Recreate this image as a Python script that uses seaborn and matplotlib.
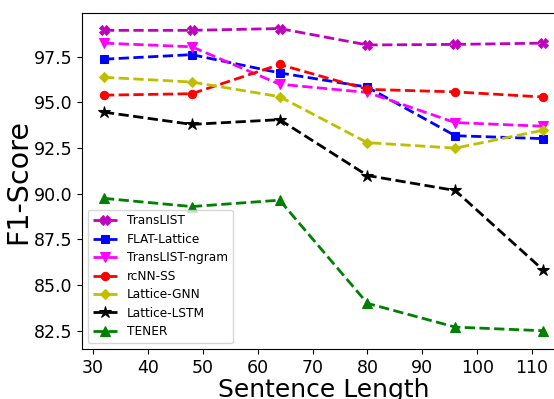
import matplotlib
matplotlib.use("Agg")
import matplotlib.pyplot as plt
import seaborn as sns
import pandas as pd

lengths = [32, 48, 64, 80, 96, 112]
translist = [98.95, 98.95, 99.05, 98.15, 98.18, 98.25]
flat_lattice = [97.37, 97.62, 96.62, 95.84, 93.18, 93.02]
translist_ngram = [98.25, 98.05, 96.00, 95.55, 93.90, 93.70]
rcnn_ss = [95.40, 95.48, 97.08, 95.72, 95.58, 95.30]
lattice_gnn = [96.38, 96.12, 95.32, 92.80, 92.50, 93.48]
lattice_lstm = [94.47, 93.80, 94.06, 91.00, 90.18, 85.83]
tener = [89.75, 89.30, 89.65, 84.00, 82.70, 82.50]

series = [
    ("TransLIST", translist, "#bf00bf", "X", 6.5),
    ("FLAT-Lattice", flat_lattice, "#0000ff", "s", 6),
    ("TransLIST-ngram", translist_ngram, "#ff00ff", "v", 6.5),
    ("rcNN-SS", rcnn_ss, "#ff0000", "o", 6),
    ("Lattice-GNN", lattice_gnn, "#bfbf00", "D", 5.5),
    ("Lattice-LSTM", lattice_lstm, "#000000", "*", 9),
    ("TENER", tener, "#008000", "^", 6.5),
]

fig = plt.figure(figsize=(5.54, 3.99), dpi=100)
ax = fig.add_axes([82 / 554, 1 - 349 / 399, (565 - 82) / 554, (349 - 13) / 399])

for name, vals, color, marker, ms in series:
    df = pd.DataFrame({"Sentence Length": lengths, "F1": vals})
    sns.lineplot(data=df, x="Sentence Length", y="F1", ax=ax, color=color,
                 marker=marker, markersize=ms, markeredgecolor=color,
                 linestyle="--", linewidth=2, label=name)

ax.set_xlim(28, 116)
ax.set_ylim(81.5, 99.9)
ax.set_xticks([30, 40, 50, 60, 70, 80, 90, 100, 110])
ax.set_yticks([82.5, 85.0, 87.5, 90.0, 92.5, 95.0, 97.5])
ax.set_yticklabels(["82.5", "85.0", "87.5", "90.0", "92.5", "95.0", "97.5"])
ax.tick_params(labelsize=12.5)
ax.set_xlabel("Sentence Length", fontsize=18, labelpad=1)
ax.set_ylabel("F1-Score", fontsize=20.5, labelpad=1)
ax.legend(loc="lower left", fontsize=8.7, labelspacing=0.45)

fig.savefig("out.png", dpi=100)
